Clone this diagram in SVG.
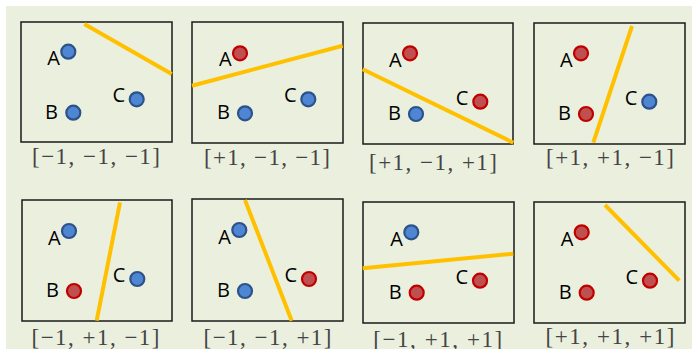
<svg xmlns="http://www.w3.org/2000/svg" width="692" height="349" viewBox="0 0 692 349">
<style>
.bg{fill:#EBF0DE}
.panel{fill:#EBF0DE;stroke:#1a1a1a;stroke-width:1.5}
.sep{stroke:#FFC000;stroke-width:4;fill:none}
.blue{fill:#4E86D4;stroke:#2C5289;stroke-width:2.2}
.red{fill:#C0504F;stroke:#C00000;stroke-width:2.2}
.lbl{font-family:"Open Sans","Liberation Sans",sans-serif;font-size:20px;fill:#000;text-anchor:end}
.cap{font-family:"Liberation Serif","DejaVu Serif",serif;font-size:23px;fill:#444;text-anchor:middle}
</style>
<rect x="0" y="0" width="692" height="349" fill="#ffffff"/>
<rect class="bg" x="6" y="6" width="686" height="343"/>

<g id="panel1">
<rect class="panel" x="21" y="22" width="151" height="120"/>
<circle class="blue" cx="68.3" cy="51.7" r="7"/>
<circle class="blue" cx="73.3" cy="112.7" r="7"/>
<circle class="blue" cx="136.7" cy="99.3" r="7"/>
<text class="lbl" x="60" y="65">A</text>
<text class="lbl" x="58" y="118.5">B</text>
<text class="lbl" x="125" y="102">C</text>
<text class="cap" x="96" y="163.5" textLength="128" lengthAdjust="spacing">[−1, −1, −1]</text>
</g>

<g id="panel2">
<rect class="panel" x="192" y="22" width="151" height="121"/>
<circle class="red" cx="240" cy="53.3" r="7"/>
<circle class="blue" cx="245" cy="113.3" r="7"/>
<circle class="blue" cx="308.3" cy="99.3" r="7"/>
<text class="lbl" x="231.7" y="66">A</text>
<text class="lbl" x="230" y="119">B</text>
<text class="lbl" x="296.5" y="102">C</text>
<text class="cap" x="267" y="165" textLength="126" lengthAdjust="spacing">[+1, −1, −1]</text>
</g>

<g id="panel3">
<rect class="panel" x="363" y="23" width="150" height="121"/>
<circle class="red" cx="410" cy="53.3" r="7"/>
<circle class="blue" cx="416" cy="114" r="7"/>
<circle class="red" cx="480.3" cy="101.7" r="7"/>
<text class="lbl" x="401.7" y="67">A</text>
<text class="lbl" x="401" y="120">B</text>
<text class="lbl" x="468.3" y="104.5">C</text>
<text class="cap" x="433" y="170" textLength="128" lengthAdjust="spacing">[+1, −1, +1]</text>
</g>

<g id="panel4">
<rect class="panel" x="534" y="23" width="151" height="121"/>
<circle class="red" cx="581" cy="53.3" r="7"/>
<circle class="red" cx="586" cy="114" r="7"/>
<circle class="blue" cx="649.3" cy="101.7" r="7"/>
<text class="lbl" x="572.7" y="67">A</text>
<text class="lbl" x="571" y="120">B</text>
<text class="lbl" x="637.3" y="104.5">C</text>
<text class="cap" x="610" y="165" textLength="128" lengthAdjust="spacing">[+1, +1, −1]</text>
</g>

<g id="panel5">
<rect class="panel" x="22" y="200" width="150" height="121"/>
<circle class="blue" cx="69" cy="231" r="7"/>
<circle class="red" cx="74" cy="291" r="7"/>
<circle class="blue" cx="137.3" cy="279" r="7"/>
<text class="lbl" x="60.7" y="244.5">A</text>
<text class="lbl" x="59" y="297">B</text>
<text class="lbl" x="125.3" y="282">C</text>
<text class="cap" x="95.5" y="345" textLength="128" lengthAdjust="spacing">[−1, +1, −1]</text>
</g>

<g id="panel6">
<rect class="panel" x="192" y="199" width="151" height="122"/>
<circle class="blue" cx="239.3" cy="230" r="7"/>
<circle class="blue" cx="245" cy="291" r="7"/>
<circle class="red" cx="309" cy="279" r="7"/>
<text class="lbl" x="231" y="243.5">A</text>
<text class="lbl" x="230" y="297">B</text>
<text class="lbl" x="297" y="282">C</text>
<text class="cap" x="267.5" y="345" textLength="128" lengthAdjust="spacing">[−1, −1, +1]</text>
</g>

<g id="panel7">
<rect class="panel" x="363" y="202" width="151" height="121"/>
<circle class="blue" cx="411.3" cy="232.3" r="7"/>
<circle class="red" cx="416.7" cy="292.7" r="7"/>
<circle class="red" cx="480" cy="280.7" r="7"/>
<text class="lbl" x="403" y="246">A</text>
<text class="lbl" x="401.7" y="298.5">B</text>
<text class="lbl" x="468" y="283.5">C</text>
<text class="cap" x="437.7" y="346.5" textLength="129" lengthAdjust="spacing">[−1, +1, +1]</text>
</g>

<g id="panel8">
<rect class="panel" x="534" y="202" width="151" height="121"/>
<circle class="red" cx="581.7" cy="232.3" r="7"/>
<circle class="red" cx="586.7" cy="292.7" r="7"/>
<circle class="red" cx="650" cy="280.7" r="7"/>
<text class="lbl" x="573.4" y="246">A</text>
<text class="lbl" x="571.7" y="298.5">B</text>
<text class="lbl" x="638" y="283.5">C</text>
<text class="cap" x="610" y="344" textLength="129" lengthAdjust="spacing">[+1, +1, +1]</text>
</g>

<g id="connectors">
<line class="sep" x1="84.3" y1="24" x2="171.7" y2="74"/>
<line class="sep" x1="192" y1="85.7" x2="342.7" y2="45.7"/>
<line class="sep" x1="362.7" y1="69.3" x2="513.3" y2="142.7"/>
<line class="sep" x1="632" y1="26" x2="593.3" y2="142.7"/>
<line class="sep" x1="120" y1="202.3" x2="96.7" y2="320.7"/>
<line class="sep" x1="245" y1="200" x2="291.7" y2="320.7"/>
<line class="sep" x1="362.7" y1="268.3" x2="513.3" y2="253.7"/>
<line class="sep" x1="605" y1="205" x2="679.3" y2="280.7"/>
</g>
</svg>
